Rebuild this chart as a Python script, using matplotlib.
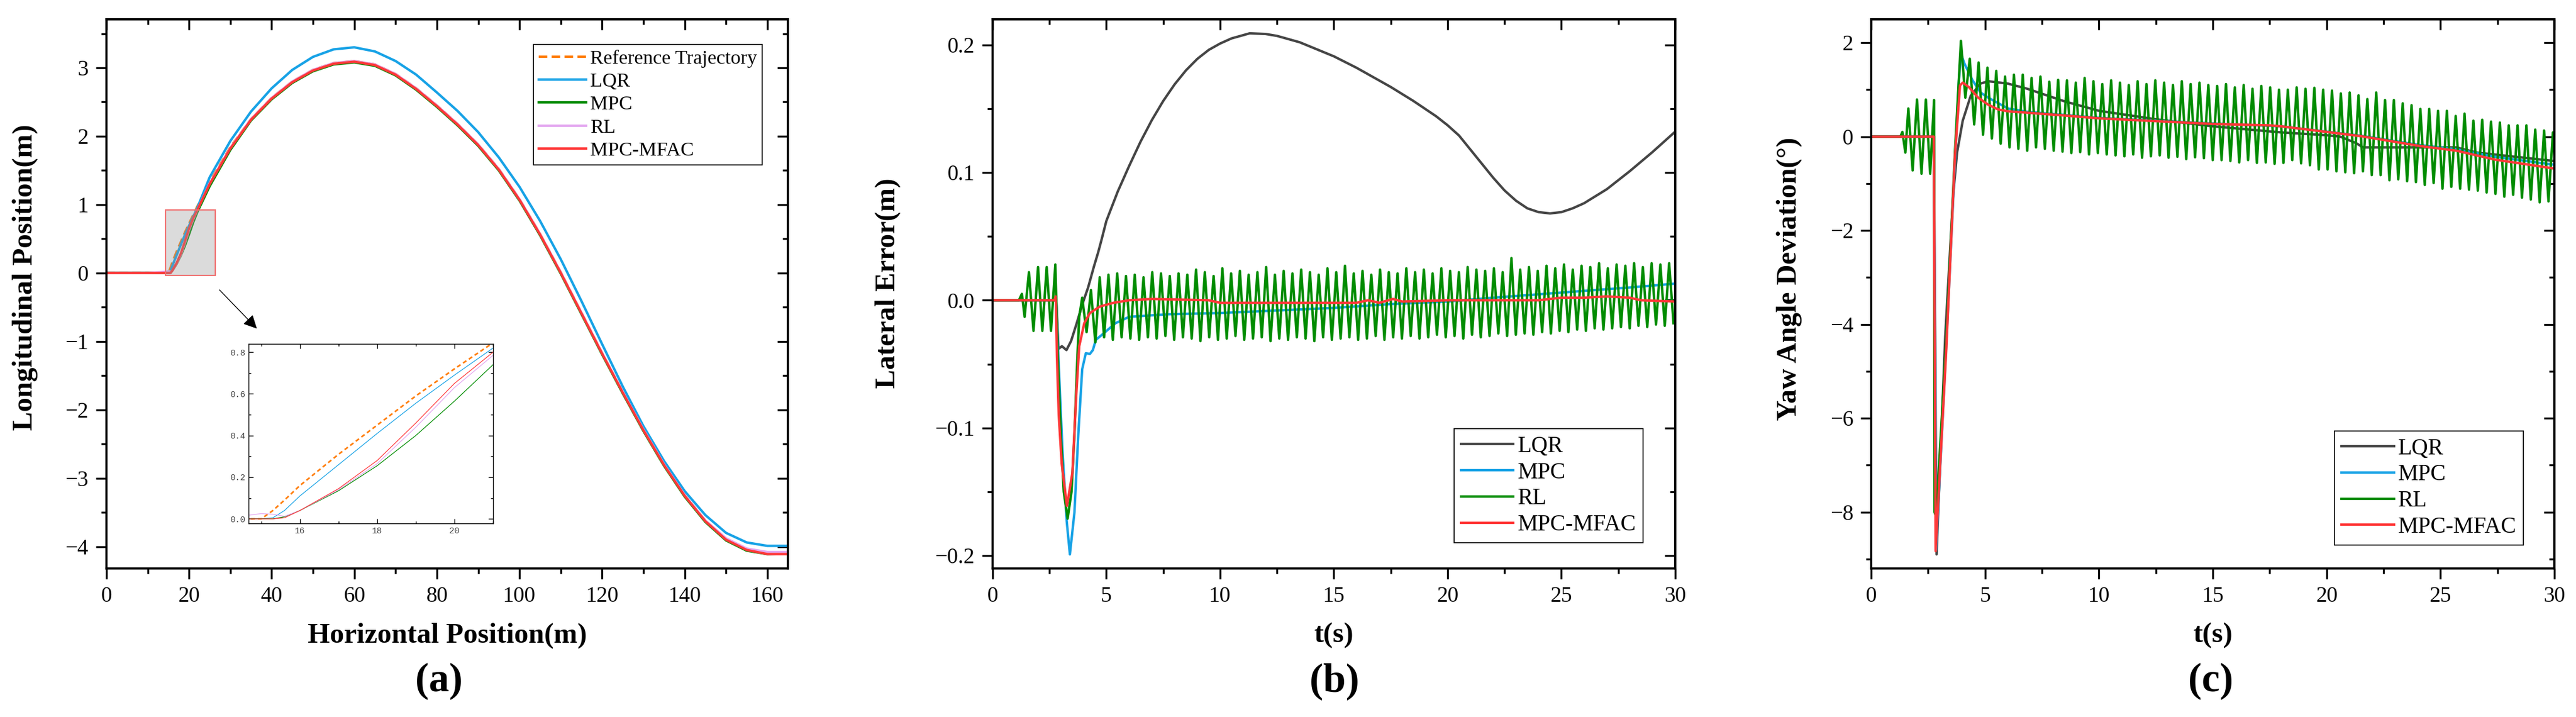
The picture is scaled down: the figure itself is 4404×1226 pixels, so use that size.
import numpy as np
import matplotlib
matplotlib.use('Agg')
import matplotlib.pyplot as plt
from matplotlib.patches import Rectangle
from matplotlib.ticker import MultipleLocator, NullFormatter, FuncFormatter

plt.rcParams['font.family'] = ['Liberation Serif', 'DejaVu Serif']
plt.rcParams['axes.unicode_minus'] = True

# ---------------- (a) trajectory data ----------------
pos_x = [0, 5, 10, 14.7, 15.0, 15.3, 15.6, 16, 17, 18, 19, 20, 21, 22, 25, 30, 35, 40, 45, 50, 55,
         60, 65, 70, 75, 80, 85, 90, 95, 100, 105, 110, 115, 120, 125, 130, 135, 140, 145, 150,
         155, 160, 165]
ref_y = [0, 0, 0, 0, 0, 0.04, 0.09, 0.16, 0.31, 0.45, 0.59, 0.72, 0.845,
         0.97, 1.33, 1.84, 2.25, 2.56, 2.80, 2.97, 3.07, 3.10, 3.05,
         2.91, 2.70, 2.45, 2.18, 1.88, 1.52, 1.08, 0.57, 0.01, -0.58,
         -1.17, -1.74, -2.29, -2.80, -3.25, -3.62, -3.89, -4.04, -4.10, -4.10]
lqr_y = [0, 0, 0, 0, 0, 0.005, 0.04, 0.11, 0.26, 0.41, 0.555, 0.69, 0.82,
         0.95, 1.40, 1.93, 2.36, 2.70, 2.97, 3.16, 3.27, 3.30, 3.24,
         3.10, 2.90, 2.64, 2.37, 2.06, 1.69, 1.26, 0.76, 0.20, -0.41,
         -1.04, -1.66, -2.24, -2.75, -3.19, -3.54, -3.80, -3.94, -3.99, -3.99]
mpc_y = [0, 0, 0, 0, 0, 0, 0.01, 0.04, 0.135, 0.255, 0.40, 0.565, 0.74,
         0.89, 1.27, 1.80, 2.23, 2.54, 2.78, 2.95, 3.05, 3.08, 3.03,
         2.89, 2.68, 2.43, 2.16, 1.86, 1.50, 1.06, 0.55, -0.01, -0.60,
         -1.19, -1.76, -2.31, -2.82, -3.27, -3.64, -3.91, -4.06, -4.11, -4.10]
rl_y = [0, 0, 0, 0.018, 0.025, 0.022, 0.012, 0.04, 0.14, 0.265, 0.44, 0.63, 0.785,
        0.92, 1.31, 1.83, 2.25, 2.56, 2.80, 2.97, 3.07, 3.10, 3.05,
        2.91, 2.70, 2.45, 2.18, 1.88, 1.52, 1.08, 0.57, 0.01, -0.58,
        -1.17, -1.74, -2.29, -2.80, -3.25, -3.62, -3.88, -4.03, -4.08, -4.08]
mfac_y = [0, 0, 0, 0, 0, 0, 0.005, 0.04, 0.145, 0.28, 0.46, 0.65, 0.80,
          0.92, 1.30, 1.82, 2.24, 2.55, 2.79, 2.96, 3.06, 3.09, 3.04,
          2.90, 2.69, 2.44, 2.17, 1.87, 1.51, 1.07, 0.56, 0.00, -0.59,
          -1.18, -1.75, -2.30, -2.81, -3.26, -3.63, -3.90, -4.05, -4.11, -4.11]

# ---------------- (b) lateral error data ----------------
lqr_b_t = [0, 2.8, 2.9, 3.05, 3.25, 3.45, 3.7, 3.95, 4.2, 4.45, 4.65, 4.8, 5, 5.5, 6, 6.5, 7,
           7.5, 8, 8.5, 9, 9.5, 10, 10.5, 11.3, 12, 12.5, 13.5, 15, 16, 17.5, 18.5, 19.5, 20,
           20.5, 21, 21.5, 22, 22.5, 23, 23.5, 24, 24.5, 25, 25.5, 26, 27, 28, 29, 30]
lqr_b_v = [0, 0, -0.038, -0.036, -0.039, -0.032, -0.018, -0.003, 0.010, 0.026, 0.038, 0.048,
           0.062, 0.085, 0.105, 0.124, 0.141, 0.156, 0.169, 0.180, 0.189, 0.196, 0.201, 0.205,
           0.209, 0.2085, 0.207, 0.202, 0.191, 0.182, 0.167, 0.156, 0.144, 0.137, 0.129, 0.118,
           0.107, 0.096, 0.086, 0.078, 0.072, 0.069, 0.068, 0.069, 0.072, 0.076, 0.087, 0.101,
           0.116, 0.132]
mpc_b_t = [0, 2.8, 2.91, 3.08, 3.26, 3.4, 3.6, 3.77, 3.94, 4.1, 4.28, 4.41, 4.54, 4.88, 5.4, 6,
           7.7, 10, 12.5, 15, 17.5, 20, 22, 25, 28, 30]
mpc_b_v = [0, 0, -0.051, -0.12, -0.173, -0.199, -0.166, -0.105, -0.054, -0.0415, -0.042, -0.039,
           -0.031, -0.026, -0.018, -0.013, -0.011, -0.010, -0.008, -0.006, -0.003, -0.001, 0.002,
           0.006, 0.010, 0.013]
mfac_b_t = [0, 2.72, 2.78, 2.83, 2.91, 3.04, 3.27, 3.51, 3.68, 3.81, 4.03, 4.28, 4.71, 5.31, 6,
            7, 9.5, 10, 12, 16, 16.5, 17, 17.6, 18, 20, 24, 25, 26, 27, 28, 28.5, 30]
mfac_b_v = [0, 0, 0.003, -0.044, -0.09, -0.128, -0.161, -0.135, -0.074, -0.036, -0.018, -0.010,
            -0.005, -0.002, 0, 0.001, 0.0, -0.002, -0.002, -0.002, 0.0, -0.002, 0.001, -0.001,
            0.0, 0.0, 0.002, 0.002, 0.003, 0.002, 0.0, -0.001]
rl_b_pre_t = [0, 1.16, 1.29, 1.41, 1.60, 1.80, 2.00, 2.19, 2.38, 2.57, 2.76, 2.87, 3.0, 3.13,
              3.30, 3.47, 3.6, 3.73, 3.81]
rl_b_pre_v = [0, 0, 0.005, -0.013, 0.022, -0.024, 0.026, -0.024, 0.026, -0.024, 0.028, -0.044,
              -0.105, -0.15, -0.171, -0.15, -0.105, -0.044, -0.013]
rl_b_peaks = [0.002, 0.008, 0.018, 0.020, 0.021, 0.019, 0.020, 0.018, 0.022, 0.021,
              0.019, 0.021, 0.020, 0.024, 0.022, 0.019, 0.025, 0.021, 0.023, 0.020,
              0.022, 0.026, 0.020, 0.023, 0.021, 0.024, 0.022, 0.020, 0.025, 0.022,
              0.027, 0.021, 0.023, 0.020, 0.024, 0.022, 0.021, 0.025, 0.022, 0.024,
              0.021, 0.025, 0.023, 0.022, 0.026, 0.024, 0.023, 0.025, 0.022, 0.033,
              0.024, 0.026, 0.023, 0.027, 0.025, 0.028, 0.024, 0.027, 0.026, 0.029,
              0.025, 0.028, 0.027, 0.029, 0.026, 0.029, 0.028, 0.029]
rl_b_troughs = [-0.025, -0.033, -0.029, -0.031, -0.029, -0.030, -0.031, -0.029, -0.030, -0.028,
                -0.031, -0.029, -0.030, -0.032, -0.029, -0.031, -0.030, -0.028, -0.031, -0.030,
                -0.029, -0.032, -0.030, -0.031, -0.029, -0.030, -0.032, -0.029, -0.031, -0.030,
                -0.029, -0.031, -0.030, -0.028, -0.031, -0.029, -0.030, -0.028, -0.030, -0.029,
                -0.027, -0.029, -0.028, -0.030, -0.027, -0.029, -0.028, -0.026, -0.028, -0.027,
                -0.026, -0.027, -0.025, -0.026, -0.024, -0.025, -0.023, -0.024, -0.022, -0.023,
                -0.022, -0.021, -0.022, -0.020, -0.021, -0.019, -0.020, -0.018]
rl_b_t0, rl_b_period = 3.94, 0.385

# ---------------- (c) yaw angle data ----------------
lqr_c_t = [0, 2.75, 2.87, 3.25, 3.6, 3.77, 4.02, 4.37, 4.8, 5.14, 6, 6.85, 8.5, 10, 12.5, 15, 18,
           20, 20.6, 21.3, 21.6, 22.5, 24, 25.7, 26.6, 28.3, 30]
lqr_c_v = [0, 0, -8.9, -4.26, -1.25, -0.34, 0.34, 0.87, 1.13, 1.18, 1.13, 1.02, 0.75, 0.55, 0.37,
           0.22, 0.09, 0.03, 0.0, -0.14, -0.23, -0.23, -0.23, -0.23, -0.34, -0.43, -0.52]
mpc_c_t = [0, 2.75, 2.85, 3.3, 3.68, 3.85, 3.94, 4.1, 4.45, 4.8, 5.14, 6, 6.85, 8.5, 10, 15, 18,
           21.5, 24.1, 25.7, 27.4, 30]
mpc_c_v = [0, 0, -8.8, -4.4, -0.5, 1.2, 1.77, 1.55, 1.2, 0.94, 0.83, 0.60, 0.53, 0.46, 0.40,
           0.28, 0.22, 0.02, -0.18, -0.27, -0.43, -0.60]
mfac_c_t = [0, 2.75, 2.83, 3.3, 3.68, 3.9, 4.02, 4.28, 4.7, 5.14, 5.57, 6, 6.85, 8.48, 10, 12.5,
            15, 17.5, 18, 20, 21.5, 24.1, 25.7, 27.4, 30]
mfac_c_v = [0, 0, -8.83, -4.5, -0.38, 1.09, 1.15, 1.06, 0.83, 0.68, 0.58, 0.54, 0.51, 0.45, 0.39,
            0.33, 0.27, 0.24, 0.22, 0.10, 0.01, -0.20, -0.30, -0.49, -0.68]
rl_c_pre_t = [0, 1.28, 1.37, 1.50, 1.63, 1.82, 2.01, 2.21, 2.40, 2.59, 2.76, 2.78, 2.85, 3.3, 3.68]
rl_c_pre_v = [0, 0, 0.10, -0.34, 0.60, -0.72, 0.79, -0.79, 0.79, -0.79, 0.78, -8.0, -8.1, -4.3, -0.3]
rl_c_peaks = [2.04, 1.66, 1.58, 1.47, 1.40, 1.28, 1.32, 1.32, 1.25, 1.28,
              1.17, 1.21, 1.20, 1.15, 1.25, 1.18, 1.12, 1.20, 1.15, 1.10,
              1.18, 1.12, 1.20, 1.15, 1.10, 1.18, 1.12, 1.15, 1.10, 1.08,
              1.12, 1.05, 1.10, 1.02, 1.08, 1.05, 1.00,
              1.00, 1.05, 1.02, 1.04, 1.00, 0.98, 0.92, 0.94, 0.88, 0.80,
              0.94, 0.78, 0.78, 0.71, 0.67, 0.59, 0.59, 0.55, 0.55, 0.44,
              0.49, 0.34, 0.36, 0.32, 0.30, 0.24, 0.24, 0.24, 0.15, 0.13, 0.09]
rl_c_troughs = [0.83, 0.26, 0.04, -0.04, -0.15, -0.23, -0.26, -0.30, -0.23, -0.26,
                -0.30, -0.32, -0.35, -0.33, -0.38, -0.35, -0.38, -0.40, -0.42, -0.38,
                -0.45, -0.42, -0.40, -0.45, -0.43, -0.48, -0.44, -0.46, -0.50, -0.50,
                -0.52, -0.55, -0.50, -0.56, -0.55, -0.58, -0.56,
                -0.50, -0.57, -0.61, -0.70, -0.70, -0.74, -0.76, -0.78, -0.74, -0.82,
                -0.82, -0.93, -0.91, -0.95, -0.97, -1.03, -0.99, -1.11, -1.07, -1.11,
                -1.13, -1.15, -1.19, -1.22, -1.28, -1.24, -1.30, -1.34, -1.40, -1.38, -1.40]
rl_c_t0, rl_c_period = 3.94, 0.388

labels_a = ['Reference Trajectory', 'LQR', 'MPC', 'RL', 'MPC-MFAC']
labels_bc = ['LQR', 'MPC', 'RL', 'MPC-MFAC']

C_ORANGE = '#ff7f0e'
C_BLUE = '#17a2e6'
C_GREEN = '#008c00'
C_PINK = '#e3a6f0'
C_RED = '#ff3838'
C_GRAY = '#454545'


def osc(pre_t, pre_v, t0, period, peaks, troughs):
    n = len(peaks)
    t = np.empty(2 * n)
    v = np.empty(2 * n)
    t[0::2] = t0 + period * np.arange(n)
    t[1::2] = t0 + period * (np.arange(n) + 0.5)
    v[0::2] = peaks
    v[1::2] = troughs
    return np.concatenate([pre_t, t]), np.concatenate([pre_v, v])


def style_axes(ax, xmaj, xmin, ymaj, ymin, fmt=None):
    for sp in ax.spines.values():
        sp.set_linewidth(2.6)
    ax.xaxis.set_major_locator(MultipleLocator(xmaj))
    ax.xaxis.set_minor_locator(MultipleLocator(xmin))
    ax.yaxis.set_major_locator(MultipleLocator(ymaj))
    ax.yaxis.set_minor_locator(MultipleLocator(ymin))
    if fmt is not None:
        ax.yaxis.set_major_formatter(fmt)
    ax.tick_params(which='major', direction='out', length=13, width=2.4, labelsize=27, pad=9)
    ax.tick_params(which='minor', direction='out', length=6.5, width=2.4)
    # inward ticks on top and right, like the original
    sx = ax.secondary_xaxis('top')
    sx.xaxis.set_major_locator(MultipleLocator(xmaj))
    sx.xaxis.set_minor_locator(MultipleLocator(xmin))
    sx.xaxis.set_major_formatter(NullFormatter())
    sx.tick_params(which='major', direction='in', length=13, width=2.4)
    sx.tick_params(which='minor', direction='in', length=6.5, width=2.4)
    sy = ax.secondary_yaxis('right')
    sy.yaxis.set_major_locator(MultipleLocator(ymaj))
    sy.yaxis.set_minor_locator(MultipleLocator(ymin))
    sy.yaxis.set_major_formatter(NullFormatter())
    sy.tick_params(which='major', direction='in', length=13, width=2.4)
    sy.tick_params(which='minor', direction='in', length=6.5, width=2.4)
    for s in (sx, sy):
        for sp in s.spines.values():
            sp.set_linewidth(2.6)


def labels(ax, xl, yl, tag, ylx, yly, tagx):
    ax.set_xlabel(xl, fontsize=35, fontweight='bold', va='center')
    ax.xaxis.set_label_coords(0.5, -0.1225)
    ax.set_ylabel(yl, fontsize=35, fontweight='bold', va='center', ha='center')
    ax.yaxis.set_label_coords(ylx, yly)
    ax.text(tagx, -0.2055, tag, transform=ax.transAxes, ha='center', va='center',
            fontsize=50, fontweight='bold')


fig = plt.figure(figsize=(44.04, 12.26), dpi=100)
bottom, height = 0.2072, 0.7659

# ---------------- panel (a) ----------------
ax_a = fig.add_axes([0.0413, bottom, 0.2646, height])
series_a = [ref_y, lqr_y, mpc_y, rl_y, mfac_y]
colors_a = [C_ORANGE, C_BLUE, C_GREEN, C_PINK, C_RED]
for yv, c, lab in zip(series_a, colors_a, labels_a):
    if lab == 'Reference Trajectory':
        ax_a.plot(pos_x, yv, color=c, lw=3, ls=(0, (3.5, 1.8)), label=lab)
    else:
        ax_a.plot(pos_x, yv, color=c, lw=3, label=lab)
ax_a.set_xlim(0, 165)
ax_a.set_ylim(-4.32, 3.71)
style_axes(ax_a, 20, 10, 1, 0.5)
labels(ax_a, 'Horizontal Position(m)', 'Longitudinal Position(m)', '(a)', -0.119, 0.53, 0.488)
leg = ax_a.legend(loc='upper right', bbox_to_anchor=(0.962, 0.954), fontsize=24.5, frameon=True,
                  fancybox=False, edgecolor='black', framealpha=1, borderaxespad=0,
                  handlelength=2.4, handletextpad=0.2, labelspacing=0.25, borderpad=0.25)
leg.get_frame().set_linewidth(1.2)

# zoom box and arrow
ax_a.add_patch(Rectangle((14.3, -0.04), 12.1, 0.96, facecolor=(0.6, 0.6, 0.6, 0.35),
                         edgecolor='#f07070', lw=1.6, zorder=5))
ax_a.annotate('', xy=(36.7, -0.83), xytext=(27.1, -0.23),
              arrowprops=dict(arrowstyle='-|>', color='black', lw=1.0, mutation_scale=35))

# inset
ax_in = fig.add_axes([0.0965, 0.270, 0.0949, 0.2504])
for yv, c, lab in zip(series_a, colors_a, labels_a):
    if lab == 'Reference Trajectory':
        ax_in.plot(pos_x, yv, color=c, lw=2, ls=(0, (2.5, 1.8)))
    else:
        ax_in.plot(pos_x, yv, color=c, lw=0.9)
ax_in.set_xlim(14.67, 21.0)
ax_in.set_ylim(-0.022, 0.84)
ax_in.xaxis.set_major_locator(MultipleLocator(2))
ax_in.xaxis.set_minor_locator(MultipleLocator(1))
ax_in.yaxis.set_major_locator(MultipleLocator(0.2))
ax_in.yaxis.set_minor_locator(MultipleLocator(0.1))
ax_in.yaxis.set_major_formatter(FuncFormatter(lambda v, p: f'{v:.1f}'))
ax_in.tick_params(which='both', direction='in', top=True, right=True, width=1,
                  labelsize=10.5, labelcolor='#444444', pad=4)
ax_in.tick_params(which='major', length=6)
ax_in.tick_params(which='minor', length=3)
for t in ax_in.get_xticklabels() + ax_in.get_yticklabels():
    t.set_family(['Liberation Mono', 'DejaVu Sans Mono'])
for sp in ax_in.spines.values():
    sp.set_linewidth(1.0)

# ---------------- panel (b) ----------------
ax_b = fig.add_axes([0.3853, bottom, 0.2650, height])
rl_b_t, rl_b_v = osc(rl_b_pre_t, rl_b_pre_v, rl_b_t0, rl_b_period, rl_b_peaks, rl_b_troughs)
ax_b.plot(lqr_b_t, lqr_b_v, color=C_GRAY, lw=3, label=labels_bc[0])
ax_b.plot(mpc_b_t, mpc_b_v, color=C_BLUE, lw=3, label=labels_bc[1])
ax_b.plot(rl_b_t, rl_b_v, color=C_GREEN, lw=3, label=labels_bc[2])
ax_b.plot(mfac_b_t, mfac_b_v, color=C_RED, lw=3, label=labels_bc[3])
ax_b.set_xlim(0, 30)
ax_b.set_ylim(-0.21, 0.22)
style_axes(ax_b, 5, 2.5, 0.1, 0.05,
           FuncFormatter(lambda v, p: f'{v:.1f}'.replace('-', '\u2212')))
labels(ax_b, 't(s)', 'Lateral Error(m)', '(b)', -0.153, 0.519, 0.501)
leg = ax_b.legend(loc='lower right', bbox_to_anchor=(0.953, 0.047), fontsize=28, frameon=True,
                  fancybox=False, edgecolor='black', framealpha=1, borderaxespad=0,
                  handlelength=2.3, handletextpad=0.2, labelspacing=0.2, borderpad=0.3)
leg.get_frame().set_linewidth(1.2)

# ---------------- panel (c) ----------------
ax_c = fig.add_axes([0.7264, bottom, 0.2652, height])
rl_c_t, rl_c_v = osc(rl_c_pre_t, rl_c_pre_v, rl_c_t0, rl_c_period, rl_c_peaks, rl_c_troughs)
ax_c.plot(lqr_c_t, lqr_c_v, color=C_GRAY, lw=3, label=labels_bc[0])
ax_c.plot(mpc_c_t, mpc_c_v, color=C_BLUE, lw=3, label=labels_bc[1])
ax_c.plot(rl_c_t, rl_c_v, color=C_GREEN, lw=3, label=labels_bc[2])
ax_c.plot(mfac_c_t, mfac_c_v, color=C_RED, lw=3, label=labels_bc[3])
ax_c.set_xlim(0, 30)
ax_c.set_ylim(-9.2, 2.5)
style_axes(ax_c, 5, 2.5, 2, 1)
labels(ax_c, 't(s)', 'Yaw Angle Deviation(\u00b0)', '(c)', -0.12, 0.527, 0.497)
leg = ax_c.legend(loc='lower right', bbox_to_anchor=(0.955, 0.043), fontsize=28, frameon=True,
                  fancybox=False, edgecolor='black', framealpha=1, borderaxespad=0,
                  handlelength=2.3, handletextpad=0.2, labelspacing=0.2, borderpad=0.3)
leg.get_frame().set_linewidth(1.2)

fig.savefig('out.png', dpi=100)
